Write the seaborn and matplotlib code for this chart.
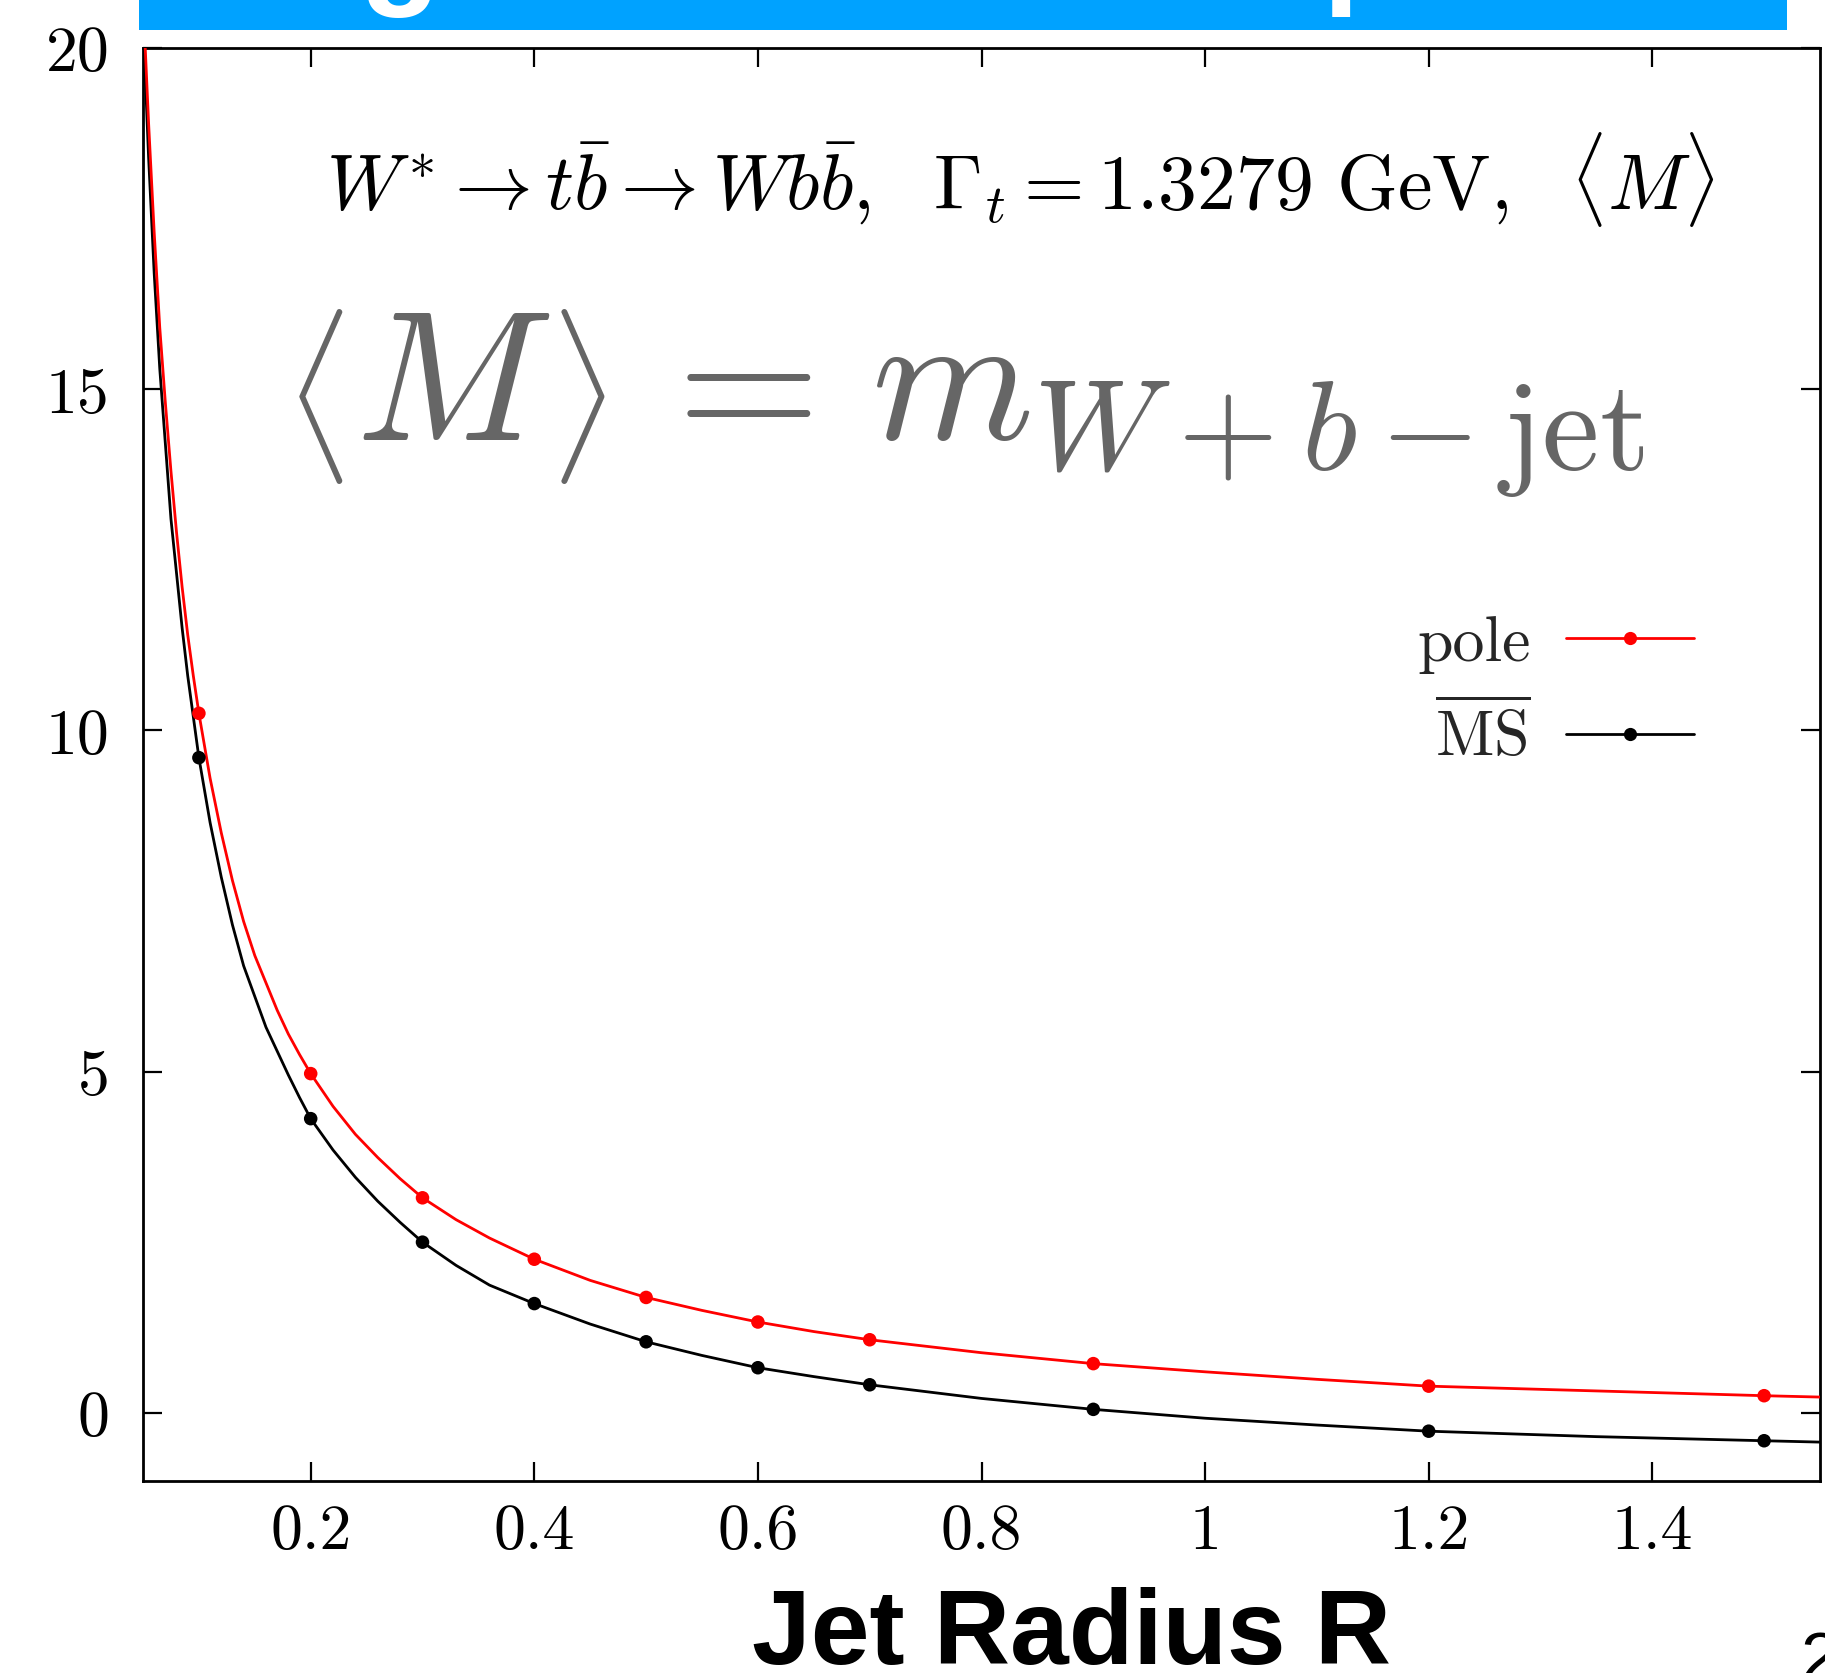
import matplotlib
matplotlib.use("Agg")
import matplotlib.pyplot as plt
import seaborn as sns
import pandas as pd
from matplotlib.lines import Line2D
from matplotlib.patches import Rectangle

# ---------------- data ----------------
R_points = [0.1, 0.2, 0.3, 0.4, 0.5, 0.6, 0.7, 0.9, 1.2, 1.5]
pole_points = [10.25, 4.97, 3.15, 2.25, 1.69, 1.33, 1.07, 0.72, 0.39, 0.25]
msbar_points = [9.6, 4.31, 2.50, 1.60, 1.04, 0.66, 0.41, 0.05, -0.27, -0.41]

R_curve_pole = [0.052, 0.055, 0.06, 0.065, 0.07, 0.075, 0.08, 0.085, 0.09, 0.095, 0.1,
                0.11, 0.12, 0.13, 0.14, 0.15, 0.16, 0.17, 0.18, 0.19, 0.2,
                0.22, 0.24, 0.26, 0.28, 0.3, 0.33, 0.36, 0.4, 0.45, 0.5, 0.55, 0.6,
                0.65, 0.7, 0.8, 0.9, 1.0, 1.1, 1.2, 1.35, 1.5, 1.55]
pole_curve = [20.0, 18.9, 17.3, 15.9, 14.8, 13.8, 12.9, 12.1, 11.4, 10.8, 10.25,
              9.3, 8.5, 7.8, 7.2, 6.7, 6.3, 5.9, 5.55, 5.25, 4.97,
              4.49, 4.08, 3.74, 3.43, 3.15, 2.83, 2.56, 2.25, 1.94, 1.69, 1.50, 1.33,
              1.19, 1.07, 0.88, 0.72, 0.60, 0.49, 0.39, 0.32, 0.25, 0.23]
R_curve_msbar = [0.051, 0.055, 0.06, 0.065, 0.07, 0.075, 0.08, 0.085, 0.09, 0.095, 0.1,
                 0.11, 0.12, 0.13, 0.14, 0.15, 0.16, 0.17, 0.18, 0.19, 0.2,
                 0.22, 0.24, 0.26, 0.28, 0.3, 0.33, 0.36, 0.4, 0.45, 0.5, 0.55, 0.6,
                 0.65, 0.7, 0.8, 0.9, 1.0, 1.1, 1.2, 1.35, 1.5, 1.55]
msbar_curve = [20.0, 18.4, 16.7, 15.3, 14.2, 13.1, 12.3, 11.5, 10.8, 10.2, 9.6,
               8.65, 7.85, 7.15, 6.55, 6.1, 5.65, 5.3, 4.95, 4.62, 4.31,
               3.85, 3.45, 3.10, 2.79, 2.50, 2.16, 1.87, 1.60, 1.30, 1.04, 0.84, 0.66,
               0.53, 0.41, 0.21, 0.05, -0.08, -0.18, -0.27, -0.35, -0.41, -0.43]

x_ticks = [0.2, 0.4, 0.6, 0.8, 1.0, 1.2, 1.4]
x_ticklabels = ["0.2", "0.4", "0.6", "0.8", "1", "1.2", "1.4"]
y_ticks = [0, 5, 10, 15, 20]
y_ticklabels = ["0", "5", "10", "15", "20"]
series_labels = ["pole", r"$\overline{\mathrm{MS}}$"]

annotation = r"$W^{*} \to t\bar{b} \to W b\bar{b},\ \ \Gamma_t = 1.3279\ \mathrm{GeV},\ \ \langle M\rangle$"
big_formula_parts = [r"$\langle$", r"$M$", r"$\rangle$", r"$=$", r"$m_{W+b-\mathrm{jet}}$"]
xlabel_text = "Jet Radius R"

# ---------------- style ----------------
sns.set_theme(style="ticks")
plt.rcParams["font.family"] = ["cmr10", "DejaVu Sans"]
plt.rcParams["mathtext.fontset"] = "cm"
plt.rcParams["axes.unicode_minus"] = False
plt.rcParams["axes.formatter.use_mathtext"] = True

W, H = 1825, 1674
fig = plt.figure(figsize=(W / 100, H / 100), dpi=100)
fig.patch.set_facecolor("white")

L, Rr, T, B = 143, 1820, 49, 1482
ax = fig.add_axes([L / W, 1 - B / H, (Rr - L) / W, (B - T) / H])
ax.set_facecolor("white")

df_pc = pd.DataFrame({"R": R_curve_pole, "v": pole_curve})
df_mc = pd.DataFrame({"R": R_curve_msbar, "v": msbar_curve})
df_pp = pd.DataFrame({"R": R_points, "v": pole_points})
df_mp = pd.DataFrame({"R": R_points, "v": msbar_points})

line_kw = dict(lw=2.0, legend=False, zorder=3, solid_joinstyle="round", solid_capstyle="round")
sns.lineplot(data=df_mc, x="R", y="v", color="black", ax=ax, **line_kw)
sns.lineplot(data=df_pc, x="R", y="v", color="#ff0000", ax=ax, **line_kw)
sns.scatterplot(data=df_mp, x="R", y="v", color="black", s=95, edgecolor="none", ax=ax,
                legend=False, zorder=4)
sns.scatterplot(data=df_pp, x="R", y="v", color="#ff0000", s=95, edgecolor="none", ax=ax,
                legend=False, zorder=4)

ax.set_xlim(0.05, 1.55)
ax.set_ylim(-1, 20)
ax.set_xticks(x_ticks)
ax.set_xticklabels(x_ticklabels)
ax.set_yticks(y_ticks)
ax.set_yticklabels(y_ticklabels)
ax.set_xlabel("")
ax.set_ylabel("")
for s in ax.spines.values():
    s.set_visible(True)
    s.set_color("black")
    s.set_linewidth(2.0)
ax.tick_params(axis="both", direction="in", length=14, width=1.6, colors="black",
               top=True, right=True, labelsize=46)
ax.tick_params(axis="x", pad=16)
ax.tick_params(axis="y", pad=24)

# legend
handles = [Line2D([], [], color="#ff0000", lw=2.0, marker="o", markersize=9.5, markeredgewidth=0),
           Line2D([], [], color="black", lw=2.0, marker="o", markersize=9.5, markeredgewidth=0)]
leg = ax.legend(handles, series_labels, loc="center right",
                bbox_to_anchor=((1694 - L) / (Rr - L), (B - 693) / (B - T)),
                frameon=False, markerfirst=False, numpoints=1, fontsize=46,
                handlelength=2.0, handletextpad=0.55, borderpad=0, borderaxespad=0,
                labelspacing=0.45)

# texts
fig.text(326 / W, 1 - 209 / H, annotation, fontsize=56, color="black",
         ha="left", va="baseline")

gray = "#666666"
big_size = 133
# <  (smaller delimiter than matplotlib's default)
fig.text(284 / W, 1 - 396 / H, big_formula_parts[0], fontsize=105, color=gray,
         ha="left", va="center")
fig.text(355 / W, 1 - 440 / H, big_formula_parts[1], fontsize=big_size, color=gray,
         ha="left", va="baseline")
fig.text(549 / W, 1 - 396 / H, big_formula_parts[2], fontsize=105, color=gray,
         ha="left", va="center")
fig.text(644 / W, 1 - 440 / H, big_formula_parts[3], fontsize=big_size, color=gray,
         ha="left", va="baseline")
fig.text(871 / W, 1 - 440 / H, big_formula_parts[4], fontsize=big_size, color=gray,
         ha="left", va="baseline")

fig.text(1071 / W, 1 - 1664 / H, xlabel_text, fontsize=76, fontweight="bold",
         family=["Liberation Sans", "DejaVu Sans"], color="black", ha="center", va="baseline")
fig.text(1800 / W, 1 - 1680 / H, "2", fontsize=50, family=["Liberation Sans", "DejaVu Sans"],
         color="black", ha="left", va="baseline")

# slide title banner (cut off at the top of the page)
fig.patches.append(Rectangle((139 / W, 1 - 31 / H), (1787 - 139) / W, 31 / H,
                             transform=fig.transFigure, facecolor="#00a2ff",
                             edgecolor="none", zorder=0))
fig.text(360 / W, 1 + 10 / H, "g", fontsize=95, fontweight="bold", color="white",
         family=["Liberation Sans", "DejaVu Sans"], ha="left", va="baseline", zorder=1)
fig.text(1322 / W, 1 + 10 / H, "p", fontsize=95, fontweight="bold", color="white",
         family=["Liberation Sans", "DejaVu Sans"], ha="left", va="baseline", zorder=1)

fig.savefig("out.png", dpi=100, facecolor="white")
